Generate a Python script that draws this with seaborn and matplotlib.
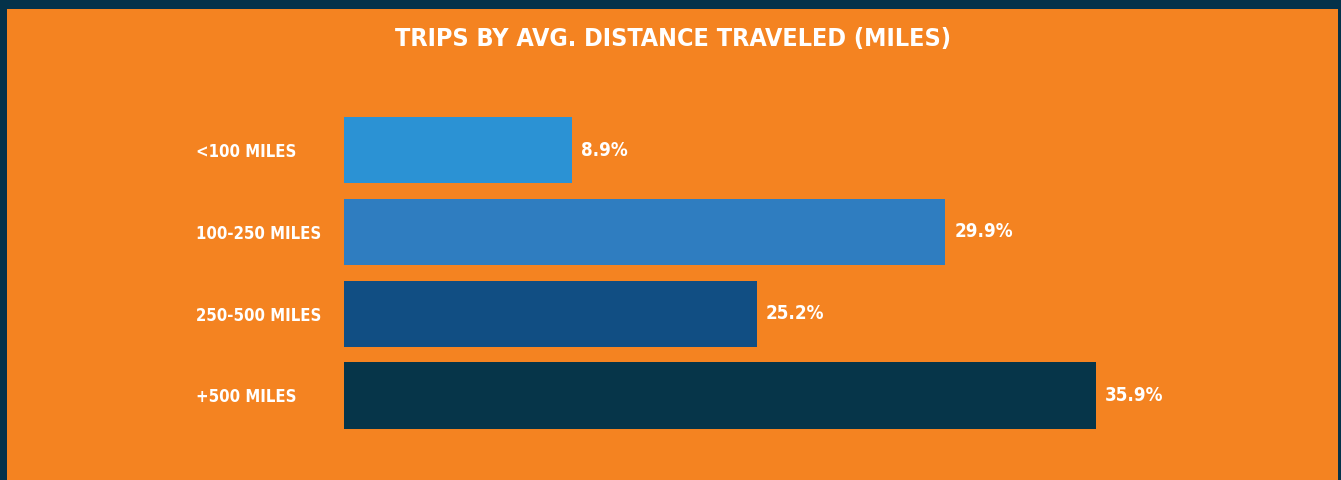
import matplotlib
matplotlib.use("Agg")
import matplotlib.pyplot as plt
import seaborn as sns
import pandas as pd
from matplotlib.patches import Rectangle

categories = ["<100 MILES", "100-250 MILES", "250-500 MILES", "+500 MILES"]
# bar lengths as drawn in the picture (same units as the % labels, longest bar = 35.9)
bar_lengths = [10.9, 28.7, 19.7, 35.9]
pct_labels = ["8.9%", "29.9%", "25.2%", "35.9%"]
bar_colors = ["#2B92D4", "#2F7DC0", "#114E83", "#063549"]

ORANGE = "#F48321"
BORDER = "#04324A"

sns.set_style("white")
plt.rcParams["font.family"] = ["DejaVu Sans"]
plt.rcParams["font.stretch"] = "condensed"

W, H = 1341, 480
fig = plt.figure(figsize=(W / 100, H / 100), dpi=100, facecolor=BORDER)
# orange panel inside the dark frame
fig.patches.append(Rectangle((7 / W, 0), (1338 - 7) / W, (H - 9) / H,
                             transform=fig.transFigure, facecolor=ORANGE,
                             edgecolor="none", zorder=-5))

ax = fig.add_axes([344 / W, 0, (1338 - 344) / W, (H - 9) / H])
ax.set_facecolor("none")
ax.set_zorder(2)

df = pd.DataFrame({"cat": categories, "val": bar_lengths})
sns.barplot(data=df, x="val", y="cat", hue="cat", palette=bar_colors,
            orient="h", width=0.81, legend=False, saturation=1,
            linewidth=0, edgecolor="none", ax=ax)

px_per_unit = 752 / 35.9
ax.set_xlim(0, 994 / px_per_unit)
step = 81.8
ax.set_ylim(3 + (480 - 395.5) / step, -(150 - 9) / step)

for i, (v, lab) in enumerate(zip(bar_lengths, pct_labels)):
    ax.text(v + 9 / px_per_unit, i, lab, color="white", fontsize=13.5,
            fontweight="bold", va="center", ha="left")

ax.set_xlabel("")
ax.set_ylabel("")
ax.set_xticks([])
ax.tick_params(axis="y", length=0, pad=(344 - 196) * 0.72)
for t in ax.get_yticklabels():
    t.set_ha("left")
    t.set_color("white")
    t.set_fontsize(12)
    t.set_fontweight("bold")
sns.despine(ax=ax, left=True, bottom=True)

fig.text(673 / W, 1 - 39 / H, "TRIPS BY AVG. DISTANCE TRAVELED (MILES)",
         color="white", fontsize=18, fontweight="bold", ha="center", va="center")

fig.savefig("out.png", dpi=100, facecolor=fig.get_facecolor())
